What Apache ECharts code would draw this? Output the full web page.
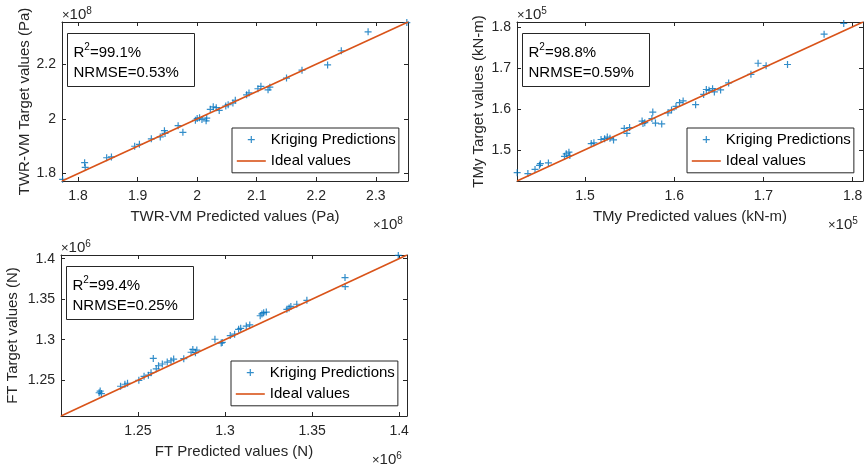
<!DOCTYPE html>
<html><head><meta charset="utf-8">
<script src="https://cdn.jsdelivr.net/npm/echarts@6/dist/echarts.min.js"></script>
<style>html,body{margin:0;padding:0;background:#fff}#c{width:867px;height:470px}</style>
</head><body><div id="c"></div><script>
const seriesNames = ['Kriging Predictions', 'Ideal values'];

// Panel 1: TWR-VM (values in units of 1e8 Pa)
const vmPred   = [1.774,1.811,1.812,1.848,1.856,1.895,1.903,1.923,1.938,1.945,1.946,1.968,1.976,1.997,2.000,2.004,2.008,2.015,2.016,2.022,2.027,2.032,2.037,2.048,2.052,2.060,2.064,2.083,2.087,2.102,2.107,2.119,2.122,2.150,2.176,2.219,2.242,2.287,2.352];
const vmTarget = [1.779,1.840,1.823,1.858,1.861,1.900,1.907,1.927,1.934,1.957,1.947,1.975,1.951,1.995,2.001,2.004,1.998,1.993,2.003,2.035,2.044,2.041,2.031,2.047,2.052,2.058,2.068,2.088,2.095,2.110,2.119,2.106,2.116,2.149,2.178,2.197,2.249,2.318,2.352];
const vmLimits = [1.773, 2.354];
const vmTicksX = [1.8, 1.9, 2, 2.1, 2.2, 2.3];
const vmTicksY = [1.8, 2, 2.2];

// Panel 2: TMy (values in units of 1e5 kN-m)
const myPred   = [1.424,1.436,1.444,1.449,1.450,1.459,1.477,1.479,1.482,1.483,1.507,1.510,1.518,1.522,1.525,1.528,1.532,1.544,1.547,1.550,1.564,1.565,1.567,1.575,1.576,1.579,1.586,1.593,1.597,1.602,1.606,1.610,1.624,1.633,1.636,1.639,1.643,1.645,1.652,1.661,1.686,1.694,1.703,1.727,1.768,1.790];
const myTarget = [1.444,1.442,1.452,1.462,1.466,1.468,1.484,1.490,1.494,1.486,1.515,1.517,1.525,1.527,1.531,1.528,1.524,1.552,1.540,1.554,1.570,1.564,1.566,1.576,1.592,1.565,1.563,1.590,1.597,1.606,1.615,1.619,1.610,1.635,1.647,1.645,1.649,1.641,1.646,1.663,1.684,1.711,1.705,1.708,1.782,1.808];
const myLimits = [1.4238, 1.8116];
const myTicksX = [1.5, 1.6, 1.7, 1.8];
const myTicksY = [1.5, 1.6, 1.7, 1.8];

// Panel 3: FT (values in units of 1e6 N)
const ftPred   = [1.2055,1.2277,1.2283,1.2290,1.2400,1.2425,1.2440,1.2505,1.2535,1.2560,1.2575,1.2588,1.2605,1.2618,1.2640,1.2668,1.2690,1.2705,1.2763,1.2805,1.2815,1.2830,1.2838,1.2942,1.2978,1.2984,1.3030,1.3055,1.3078,1.3090,1.3122,1.3142,1.3202,1.3212,1.3222,1.3237,1.3355,1.3368,1.3378,1.3412,1.3470,1.3689,1.3690,1.3995];
const ftTarget = [1.2075,1.2345,1.2365,1.2335,1.2425,1.2450,1.2462,1.2498,1.2548,1.2562,1.2592,1.2768,1.2640,1.2678,1.2700,1.2724,1.2740,1.2760,1.2766,1.2845,1.2880,1.2840,1.2872,1.3005,1.2958,1.2966,1.3050,1.3068,1.3128,1.3140,1.3168,1.3182,1.3295,1.3318,1.3333,1.3340,1.3375,1.3390,1.3410,1.3437,1.3486,1.3766,1.3655,1.4040];
const ftLimits = [1.2058, 1.4045];
const ftTicks  = [1.25, 1.3, 1.35, 1.4];

const xTitles = ['TWR-VM Predicted values (Pa)', 'TMy Predicted values (kN-m)', 'FT Predicted values (N)'];
const yTitles = ['TWR-VM Target values (Pa)', 'TMy Target values (kN-m)', 'FT Target values (N)'];
const exponents = ['8', '5', '6'];
const r2Values = ['99.1%', '98.8%', '99.4%'];
const nrmseValues = ['0.53%', '0.59%', '0.25%'];

const BLUE = '#0072BD', ORANGE = '#D95319', AX = '#262626';
const FONT = 'Liberation Sans, Arial, sans-serif';
const panels = [
  {pred: vmPred, target: vmTarget, lim: vmLimits, tx: vmTicksX, ty: vmTicksY,
   grid: {left: 62, top: 22, width: 346, height: 159}, yGap: 27},
  {pred: myPred, target: myTarget, lim: myLimits, tx: myTicksX, ty: myTicksY,
   grid: {left: 517, top: 22, width: 346, height: 159}, yGap: 31},
  {pred: ftPred, target: ftTarget, lim: ftLimits, tx: ftTicks, ty: ftTicks,
   grid: {left: 61, top: 255, width: 346, height: 161}, yGap: 41}
];

const plusPath = 'path://M0,5L10,5M5,0L5,10';
const plusLegend = 'path://M0,0M29,0M29,14M0,14M11,7L18,7M14.5,3.5L14.5,10.5';
const lineLegend = 'path://M0,0M29,0M29,14M0,14M0,7L29,7';

const option = {
  animation: false,
  backgroundColor: '#fff',
  textStyle: {fontFamily: FONT},
  grid: [], xAxis: [], yAxis: [], series: [], legend: [], graphic: []
};

function axisBase(lim, ticks, showLabel, pos) {
  return {
    type: 'value', min: lim[0], max: lim[1], position: pos,
    axisLine: {show: true, onZero: false, lineStyle: {color: AX, width: 1}},
    axisTick: {show: true, inside: true, length: 4, customValues: ticks, lineStyle: {color: AX, width: 1}},
    axisLabel: {show: showLabel, customValues: ticks, color: AX, fontSize: 14},
    splitLine: {show: false}
  };
}

panels.forEach((p, i) => {
  const g = p.grid;
  option.grid.push(Object.assign({containLabel: false}, g));
  const xb = axisBase(p.lim, p.tx, true, 'bottom');
  xb.gridIndex = i; xb.axisLabel.margin = 8;
  xb.name = xTitles[i]; xb.nameLocation = 'middle'; xb.nameGap = 28;
  xb.nameTextStyle = {color: AX, fontSize: 15};
  const xt = axisBase(p.lim, p.tx, false, 'top'); xt.gridIndex = i;
  const yl = axisBase(p.lim, p.ty, true, 'left');
  yl.gridIndex = i; yl.axisLabel.margin = 6;
  yl.name = yTitles[i]; yl.nameLocation = 'middle'; yl.nameGap = p.yGap;
  yl.nameTextStyle = {color: AX, fontSize: 15};
  const yr = axisBase(p.lim, p.ty, false, 'right'); yr.gridIndex = i;
  option.xAxis.push(xb, xt);
  option.yAxis.push(yl, yr);

  option.series.push({
    type: 'scatter', name: seriesNames[0], xAxisIndex: 2 * i, yAxisIndex: 2 * i,
    symbol: plusPath, symbolSize: 7,
    itemStyle: {color: 'rgba(0,0,0,0)', borderColor: BLUE, borderWidth: 1.2},
    data: p.pred.map((v, k) => [v, p.target[k]]), z: 2
  });
  option.series.push({
    type: 'line', name: seriesNames[1], xAxisIndex: 2 * i, yAxisIndex: 2 * i,
    symbol: 'none', showSymbol: false, lineStyle: {color: ORANGE, width: 1.6}, itemStyle: {color: ORANGE},
    data: [[p.lim[0], p.lim[0]], [p.lim[1], p.lim[1]]], z: 3
  });

  option.legend.push({
    left: g.left + 170, top: g.top + 106, orient: 'vertical',
    data: [
      {name: seriesNames[0], icon: plusLegend, itemStyle: {color: 'rgba(0,0,0,0)', borderColor: BLUE, borderWidth: 1.2}},
      {name: seriesNames[1], icon: lineLegend, itemStyle: {color: 'rgba(0,0,0,0)', borderColor: ORANGE, borderWidth: 1.6}}
    ],
    itemWidth: 29, itemHeight: 14, itemGap: 6, padding: [4, 3, 4, 4],
    borderColor: AX, borderWidth: 1, backgroundColor: '#fff', borderRadius: 0,
    textStyle: {fontSize: 15, color: '#000'}, selectedMode: false, z: 10
  });

  // statistics box
  option.graphic.push({
    type: 'group', left: g.left + 5, top: g.top + 11, z: 100,
    children: [
      {type: 'rect', shape: {x: 0, y: 0, width: 127, height: 53}, style: {fill: '#fff', stroke: AX, lineWidth: 1}},
      {type: 'text', x: 6, y: 9, style: {
        text: '{a|R}{s|2}{a|=' + r2Values[i] + '}\n{a|NRMSE=' + nrmseValues[i] + '}',
        rich: {a: {fontSize: 15, lineHeight: 20, fill: '#000', fontFamily: FONT},
               s: {fontSize: 10, lineHeight: 20, verticalAlign: 'top', padding: [0, 0, 8, 0], fill: '#000', fontFamily: FONT}}
      }}
    ]
  });
  // exponent labels
  const expText = '{x|×}{a|10}{s|' + exponents[i] + '}';
  const expRich = {x: {fontSize: 13, lineHeight: 18, fill: AX, fontFamily: FONT},
                   a: {fontSize: 15, lineHeight: 18, fill: AX, fontFamily: FONT},
                   s: {fontSize: 10, lineHeight: 18, padding: [0, 0, 8, 0], fill: AX, fontFamily: FONT}};
  option.graphic.push({type: 'text', left: g.left, top: g.top - 16, z: 100, style: {text: expText, rich: expRich}});
  option.graphic.push({type: 'text', left: g.left + g.width - 35, top: g.top + g.height + 35, z: 100, style: {text: expText, rich: expRich}});
});

const chart = echarts.init(document.getElementById('c'), null, {renderer: 'canvas'});
chart.setOption(option);
</script></body></html>
